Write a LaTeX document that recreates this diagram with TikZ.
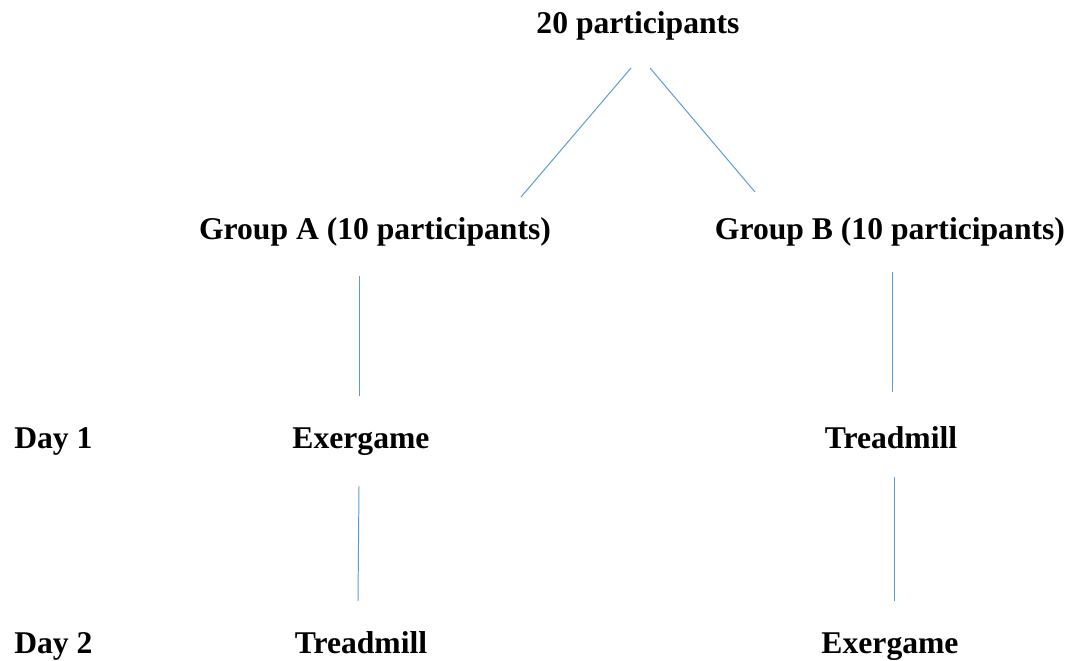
\documentclass[tikz,border=0pt]{standalone}
\usepackage{fontspec}
\setmainfont{Liberation Serif}
\usetikzlibrary{positioning}
\definecolor{linkblue}{RGB}{91,155,213}
\tikzstyle{label}=[font=\bfseries\fontsize{22.5}{27}\selectfont,inner sep=0pt,anchor=base]
\tikzstyle{day}=[label,anchor=base west]
\tikzstyle{link}=[linkblue,line width=0.7pt]

\begin{document}
\begin{tikzpicture}[x=0.025cm, y=-0.025cm]
  \useasboundingbox (0,0) rectangle (1074,661);

  \node[label] (top) at (638,34) {20 participants};
  \node[label] (ga) at (375,240) {Group A (10 participants)};
  \node[label] (gb) at (890,240) {Group B (10 participants)};

  \node[day] (d1) at (14,449) {Day 1};
  \node[label] (ea) at (361,449) {Exergame};
  \node[label] (tb) at (891,449) {Treadmill};

  \node[day] (d2) at (14,654) {Day 2};
  \node[label] (ta) at (361,654) {Treadmill};
  \node[label] (eb) at (890,654) {Exergame};

  \draw[link] ([shift={(-7,34)}]top.base) -- ([shift={(146,-43)}]ga.base);
  \draw[link] ([shift={(12,34)}]top.base) -- ([shift={(-135,-48)}]gb.base);

  \draw[link] ([shift={(-16,36)}]ga.base) -- ([shift={(-2,-53)}]ea.base);
  \draw[link] ([shift={(2,32)}]gb.base) -- ([shift={(1,-57)}]tb.base);

  \draw[link] ([shift={(-2,37)}]ea.base) -- ([shift={(-3,-53)}]ta.base);
  \draw[link] ([shift={(3,28)}]tb.base) -- ([shift={(4,-53)}]eb.base);

\end{tikzpicture}
\end{document}
